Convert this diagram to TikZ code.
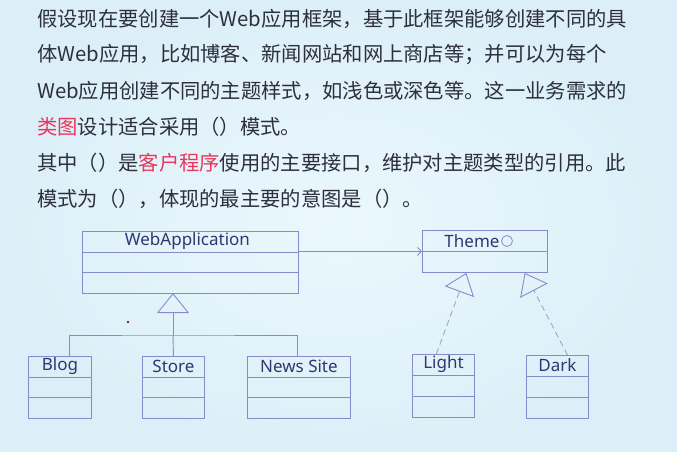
\documentclass[tikz,border=0pt]{standalone}
\usepackage{fontspec}
\setmainfont{Noto Sans}
\newfontfamily\cjk{Noto Sans CJK SC}
\usetikzlibrary{arrows.meta,calc}

\definecolor{bgout}{HTML}{DCEFF8}
\definecolor{bgin}{HTML}{EAF8FC}
\definecolor{ink}{HTML}{2D2F3D}
\definecolor{hl}{HTML}{E8365D}
\definecolor{umlline}{HTML}{868CCB}
\definecolor{umldash}{HTML}{9EA4D4}
\definecolor{umltext}{HTML}{2F3672}

\tikzset{
  x=1pt, y=-1pt,
  body/.style={anchor=west, inner sep=0pt, text=ink,
    font=\cjk\fontsize{20.3}{24}\selectfont},
  classbox/.style={draw=umlline, line width=0.9pt, anchor=north west,
    inner sep=0pt, minimum height=62pt},
  % class box split into three compartments
  thirds/.style={path picture={
    \draw[umlline, line width=0.9pt]
      ($(path picture bounding box.north west)!1/3!(path picture bounding box.south west)$) --
      ($(path picture bounding box.north east)!1/3!(path picture bounding box.south east)$)
      ($(path picture bounding box.north west)!2/3!(path picture bounding box.south west)$) --
      ($(path picture bounding box.north east)!2/3!(path picture bounding box.south east)$);}},
  % class box split into two compartments
  halves/.style={path picture={
    \draw[umlline, line width=0.9pt]
      ($(path picture bounding box.north west)!1/2!(path picture bounding box.south west)$) --
      ($(path picture bounding box.north east)!1/2!(path picture bounding box.south east)$);}},
  umllabel/.style={inner sep=0pt, text=umltext, font=\fontsize{17}{20}\selectfont},
  umledge/.style={draw=umlline, line width=0.9pt},
  realize/.style={draw=umldash, line width=0.9pt, dash pattern=on 6pt off 4pt,
    -{Triangle[open, length=20pt, width=31pt, color=umlline]}},
  inherit/.style={umledge, -{Triangle[open, length=20pt, width=32pt]}},
}

\begin{document}
\begin{tikzpicture}
  % background
  \shade[inner color=bgin, outer color=bgout] (0,0) rectangle (677,451);
  \useasboundingbox (0,0) rectangle (677,451);

  % question text
  \node[body] (l1) at (37,19)  {假设现在要创建一个Web应用框架，基于此框架能够创建不同的具};
  \node[body] (l2) at (37,55)  {体Web应用，比如博客、新闻网站和网上商店等；并可以为每个};
  \node[body] (l3) at (37,91)  {Web应用创建不同的主题样式，如浅色或深色等。这一业务需求的};
  \node[body] (l4) at (37,127) {{\color{hl}类图}设计适合采用（）模式。};
  \node[body] (l5) at (37,163) {其中（）是{\color{hl}客户程序}使用的主要接口，维护对主题类型的引用。此};
  \node[body] (l6) at (37,199) {模式为（），体现的最主要的意图是（）。};

  % class boxes
  \node[classbox, thirds, minimum width=216pt] (web) at (82,231) {};
  \node[classbox, halves, minimum width=125pt, minimum height=42pt] (theme) at (422,230) {};
  \node[classbox, thirds, minimum width=63pt]  (blog)  at (28,356)  {};
  \node[classbox, thirds, minimum width=62pt]  (store) at (142,356) {};
  \node[classbox, thirds, minimum width=103pt] (news)  at (247,356) {};
  \node[classbox, thirds, minimum width=62pt, minimum height=63pt] (light) at (412,354) {};
  \node[classbox, thirds, minimum width=62pt, minimum height=63pt] (dark)  at (526,355) {};

  % class names
  \node[umllabel] (web-t)   at ($(web.north)+(-3,10.5)$)  {WebApplication};
  \node[umllabel] (theme-t) at (472,241) {Theme};
  \node[draw=umlline, line width=0.8pt, circle, minimum size=11pt, inner sep=0pt] (theme-o) at (507,241) {};
  \node[umllabel] (blog-t)  at (60,366)  {Blog};
  \node[umllabel] (store-t) at ($(store.north)+(0,10.5)$) {Store};
  \node[umllabel] (news-t)  at ($(news.north)+(0,10.5)$)  {News Site};
  \node[umllabel] (light-t) at ($(light.north)+(0,10.5)$) {Light};
  \node[umllabel] (dark-t)  at ($(dark.north)+(0,10.5)$)  {Dark};

  % association WebApplication -> Theme
  \draw[umledge, -{Straight Barb[length=4pt, width=8pt]}] (theme.west -| web.east) -- (theme.west);

  % inheritance tree
  \coordinate (apex) at (173,293);
  \coordinate (hub) at (173,335);
  \coordinate (blog-in) at (69,356);
  \coordinate (news-in) at (297,356);
  \draw[inherit] (hub) -- (apex);
  \draw[umledge] (blog-in) |- (hub) -| (news-in);
  \draw[umledge] (store.north) -- (hub);

  % realizations of Theme
  \coordinate (light-up) at ($(theme.south west)!0.352!(theme.south east)$);
  \coordinate (dark-up)  at ($(theme.south west)!0.816!(theme.south east)$);
  \coordinate (light-top) at ($(light.north west)!0.387!(light.north east)$);
  \coordinate (dark-top)  at ($(dark.north west)!0.66!(dark.north east)$);
  \draw[realize] (light-top) -- (light-up);
  \draw[realize] (dark-top) -- (dark-up);

  % small mark
  \fill[black!40!hl!70!umltext] (128,322) circle (1.3pt);
\end{tikzpicture}
\end{document}
